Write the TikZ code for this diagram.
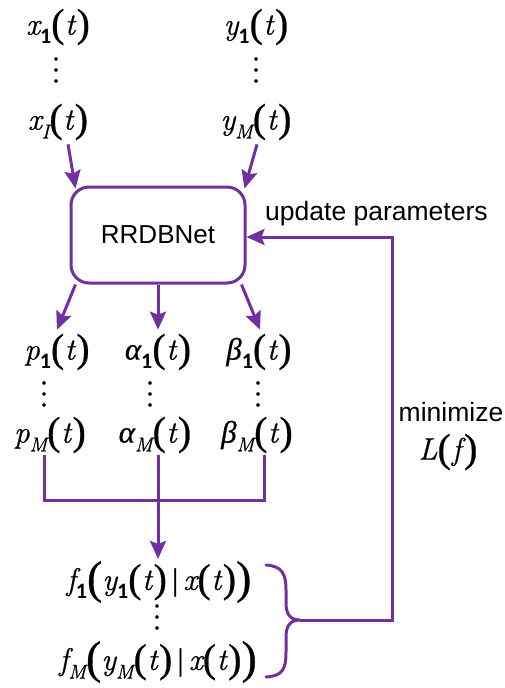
\documentclass[tikz,border=0pt]{standalone}
\usepackage{fontspec}
\setsansfont{Liberation Sans}
\newfontfamily\letterfont{Latin Modern Roman}[FakeBold=0.7]
\newfontfamily\parenfont{Liberation Serif}[FakeBold=0.6]
\newfontfamily\digitfont{Carlito}
\usetikzlibrary{arrows.meta,calc}
\definecolor{flowpurple}{HTML}{7030A0}

% italic symbols with subscripts and tall parentheses
\newcommand\subx[1]{\raisebox{-0.28em}{\fontsize{20}{20}\selectfont #1}}
\newcommand\subone{\raisebox{-0.28em}{\fontsize{22}{22}\selectfont\digitfont\fontseries{b}\fontshape{n}\selectfont 1}}
\newcommand\lpr{{\parenfont\upshape\fontsize{40}{40}\selectfont\raisebox{-0.05em}{(}}}
\newcommand\rpr{{\parenfont\upshape\fontsize{40}{40}\selectfont\raisebox{-0.05em}{)}}}
\newcommand\Lpr{{\parenfont\upshape\fontsize{46}{46}\selectfont\raisebox{-0.07em}{(}}}
\newcommand\Rpr{{\parenfont\upshape\fontsize{46}{46}\selectfont\raisebox{-0.07em}{)}}}
\newcommand\ofT{\lpr\kern0.5pt t\kern1.5pt\rpr}
\newcommand\gk[1]{{\parenfont\itshape #1}}
% three stacked dots
\newcommand\dotcol{\vbox{\baselineskip=11pt\lineskiplimit=-20pt\hbox{.}\hbox{.}\hbox{.}}}

\begin{document}
\begin{tikzpicture}[x=1pt,y=-1pt,
  sym/.style={font=\letterfont\fontsize{31}{34}\selectfont\itshape, inner sep=0pt, anchor=center},
  vdot/.style={font=\parenfont\fontsize{28}{28}\selectfont, inner sep=0pt},
  label/.style={font=\sffamily\fontsize{26.5}{30}\selectfont, inner sep=0pt},
  netbox/.style={draw=flowpurple, line width=3pt, rounded corners=18pt,
    minimum width=174pt, minimum height=96pt, inner sep=0pt,
    font=\sffamily\fontsize{26}{30}\selectfont},
  flow/.style={draw=flowpurple, line width=3pt},
  arr/.style={flow, -{Stealth[length=18pt,width=16pt,inset=3pt]}}]

\useasboundingbox (0,0) rectangle (504,688);

% inputs
\node[sym] (x1) at (58,27) {x\subone\ofT};
\node[vdot] (xd) at (56,70) {\dotcol};
\node[sym] (xI) at (58,122) {x\subx{I}\ofT};
\node[sym] (y1) at (256,27) {y\subone\ofT};
\node[vdot] (yd) at (256,70) {\dotcol};
\node[sym] (yM) at (256,122) {y\subx{M}\ofT};

% network
\node[netbox] (net) at (158,235) {RRDBNet};
\node[label, anchor=west] (upd) at (265,214) {update parameters};

% outputs of the network
\node[sym] (p1) at (57,352) {p\subone\ofT};
\node[sym] (a1) at (158,352) {\gk{α}\subone\ofT};
\node[sym] (b1) at (259,352) {\gk{β}\subone\ofT};
\node[vdot] (pd) at (44,394) {\dotcol};
\node[vdot] (ad) at (150,394) {\dotcol};
\node[vdot] (bd) at (258,394) {\dotcol};
\node[sym] (pM) at (50,435) {p\subx{M}\ofT};
\node[sym] (aM) at (155,435) {\gk{α}\subx{M}\ofT};
\node[sym] (bM) at (257,435) {\gk{β}\subx{M}\ofT};

% densities
\node[sym] (f1) at (159,582) {f\subone\Lpr y\subone\ofT\,{\parenfont\upshape|}\,x\ofT\Rpr};
\node[vdot] (fd) at (157,617) {\dotcol};
\node[sym] (fM) at (158,662) {f\subx{M}\Lpr y\subx{M}\ofT\,{\parenfont\upshape|}\,x\ofT\Rpr};

% loss
\node[label] (mini) at (451,412) {minimize};
\node[sym] (loss) at (448,452) {L\lpr\kern1pt f\kern3pt\rpr};

% arrows into the network
\draw[arr] ($(xI.south)+(10,4)$) -- ($(net.north west)+(6,3)$);
\draw[arr] ($(yM.south)+(1,4)$) -- ($(net.north east)+(-2,3)$);

% arrows out of the network
\draw[arr] ($(net.south west)+(6,0)$) -- ($(p1.north)+(0,-4)$);
\draw[arr] (net.south) -- ($(a1.north)+(0,-4)$);
\draw[arr] ($(net.south east)+(-5,0)$) -- ($(b1.north)+(1,-4)$);

% merge of the parameters
\coordinate (jl) at (44,500);
\coordinate (jr) at (264,500);
\draw[flow] ($(pM.south)+(-6,2)$) -- (jl) -- (jr) -- ($(bM.south)+(7,2)$);
\draw[arr] ($(aM.south)+(3,2)$) -- ($(f1.north)+(-1,-2)$);

% brace grouping the densities
\coordinate (bt) at (300,620);
\draw[flow, line cap=round] (266,565) .. controls (282,566) and (286,574) .. (286,590)
  -- (286,603) .. controls (286,614) and (290,620) .. (bt)
  .. controls (290,620) and (286,626) .. (286,637)
  -- (286,652) .. controls (286,670) and (282,676) .. (266,677);

% feedback loop
\coordinate (fb1) at (392,620);
\coordinate (fb2) at (392,237);
\draw[arr] (bt) -- (fb1) -- (fb2) -- (net.east |- fb2);
\end{tikzpicture}
\end{document}
